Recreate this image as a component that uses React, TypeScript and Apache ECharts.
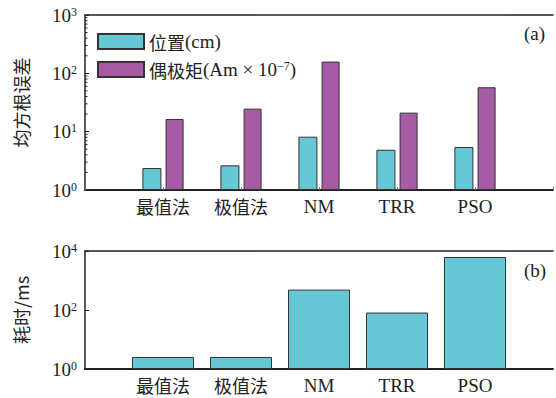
import React, { useEffect, useRef } from "react";
import * as echarts from "echarts";

// Methods compared
const categories = ["最值法", "极值法", "NM", "TRR", "PSO"];
// RMS error of the localisation: position (cm) and dipole moment (Am×10^-7)
const positionErr = [2.38, 2.65, 8.2, 4.9, 5.46];
const momentErr = [16.5, 24.8, 159, 21.2, 57.7];
// Computation time (ms)
const timeMs = [2.56, 2.56, 490, 82, 6250];

const positionName = "位置(cm)";
const momentName = "偶极矩(Am×10-7)";

const LATIN = "Liberation Serif";
const CJK = "Noto Sans CJK SC";
const INK = "#222";
const CYAN = "#66C8D4";
const PURPLE = "#A65BA5";

// one padding slot either side of the methods
const xCats = ["", ...categories, ""];
const pad = (arr: number[]) => ["-", ...arr, "-"];

// log minor ticks 2..9 in each decade of the upper panel
const minorTickValues: number[] = [];
[1, 10, 100].forEach((d) => {
  for (let k = 2; k <= 9; k++) minorTickValues.push(k * d);
});

const hasCJK = (s: string) => /[\u4e00-\u9fff]/.test(s);

// text styles: Latin in a serif face, Chinese in the CJK face
const rich = {
  l: { fontSize: 19, fontFamily: LATIN, color: INK },
  c: { fontSize: 18, fontFamily: CJK, color: INK },
  s: { fontSize: 12, fontFamily: LATIN, color: INK, verticalAlign: "top" as const },
};

// split a string into CJK / Latin runs of rich text
const mixed = (s: string) =>
  (s.match(/[\u4e00-\u9fff]+|[^\u4e00-\u9fff]+/g) || [])
    .map((run) => (hasCJK(run) ? `{c|${run}}` : `{l|${run}}`))
    .join("");

const powLabel = (v: number) => `{l|10}{s|${Math.round(Math.log10(v))}}`;

export default function App() {
  const ref = useRef<HTMLDivElement>(null);

  useEffect(() => {
    if (!ref.current) return;
    const chart = echarts.init(ref.current, undefined, { renderer: "svg" });

    const frameLine = { show: true, lineStyle: { color: INK, width: 1.5 } };

    const baseX = (gridIndex: number, tickShow: boolean) => ({
      type: "category" as const,
      gridIndex,
      data: xCats,
      boundaryGap: false,
      axisLine: { show: true, lineStyle: { color: INK, width: 2 } },
      axisTick: { show: tickShow, inside: true, length: 3, lineStyle: { color: "#777" } },
      axisLabel: {
        interval: 0,
        margin: 7,
        formatter: (v: string) => (v ? mixed(v) : ""),
        rich,
      },
      splitLine: { show: false },
    });

    const topX = (gridIndex: number) => ({
      type: "category" as const,
      gridIndex,
      position: "top" as const,
      data: xCats,
      boundaryGap: false,
      axisLine: frameLine,
      axisTick: { show: false },
      axisLabel: { show: false },
      splitLine: { show: false },
    });

    const logY = (gridIndex: number, max: number, interval: number, name: string) => ({
      type: "log" as const,
      gridIndex,
      logBase: 10,
      min: 1,
      max,
      interval,
      name,
      nameLocation: "middle" as const,
      nameRotate: 90,
      nameGap: 55,
      nameTextStyle: { fontSize: 18, fontFamily: CJK, color: INK },
      axisLine: { show: true, lineStyle: { color: INK, width: 1.5 } },
      axisTick: { show: true, inside: true, length: 4, lineStyle: { color: INK } },
      axisLabel: { formatter: powLabel, rich, margin: 8 },
      splitLine: { show: false },
    });

    chart.setOption({
      animation: false,
      grid: [
        { left: 85, top: 15, right: -4, height: 175 },
        { left: 85, top: 251, right: -4, height: 118 },
      ],
      legend: {
        data: [positionName, momentName],
        orient: "vertical",
        left: 97,
        top: 32,
        padding: 0,
        itemWidth: 46,
        itemHeight: 15,
        itemGap: 9,
        selectedMode: false,
        icon: "rect",
        textStyle: { rich },
        formatter: (name: string) =>
          name === momentName
            ? "{c|偶极矩}{l|(Am × 10}{s|−7}{l|)}"
            : mixed(name),
      },
      xAxis: [baseX(0, true), topX(0), baseX(1, false), topX(1)],
      yAxis: [logY(0, 1000, 1, "均方根误差"), logY(1, 10000, 2, "耗时/ms")],
      series: [
        {
          name: positionName,
          type: "bar",
          xAxisIndex: 0,
          yAxisIndex: 0,
          barWidth: 19,
          barGap: "22%",
          data: pad(positionErr),
          itemStyle: { color: CYAN, borderColor: "#333", borderWidth: 1 },
        },
        {
          name: momentName,
          type: "bar",
          xAxisIndex: 0,
          yAxisIndex: 0,
          barWidth: 18,
          data: pad(momentErr),
          itemStyle: { color: PURPLE, borderColor: "#333", borderWidth: 1 },
        },
        {
          name: "耗时",
          type: "bar",
          xAxisIndex: 2,
          yAxisIndex: 1,
          barWidth: 62,
          data: pad(timeMs),
          itemStyle: { color: CYAN, borderColor: "#333", borderWidth: 1 },
        },
        {
          name: "minor",
          type: "custom",
          xAxisIndex: 0,
          yAxisIndex: 0,
          silent: true,
          z: 5,
          data: minorTickValues.map((v) => [0, v]),
          encode: { x: 0, y: 1 },
          renderItem: (params: any, api: any) => {
            const p = api.coord([0, api.value(1)]);
            return {
              type: "line",
              shape: { x1: p[0], y1: p[1], x2: p[0] + 2.5, y2: p[1] },
              style: { stroke: INK, lineWidth: 1 },
            };
          },
        },
      ],
      graphic: [
        {
          type: "text",
          left: 524,
          top: 24,
          style: { text: "(a)", fontSize: 19, fontFamily: LATIN, fill: INK },
        },
        {
          type: "text",
          left: 524,
          top: 261,
          style: { text: "(b)", fontSize: 19, fontFamily: LATIN, fill: INK },
        },
      ],
    });

    return () => chart.dispose();
  }, []);

  return (
    <div
      ref={ref}
      style={{ position: "absolute", left: 0, top: 0, width: 556, height: 398, background: "#fff" }}
    />
  );
}
